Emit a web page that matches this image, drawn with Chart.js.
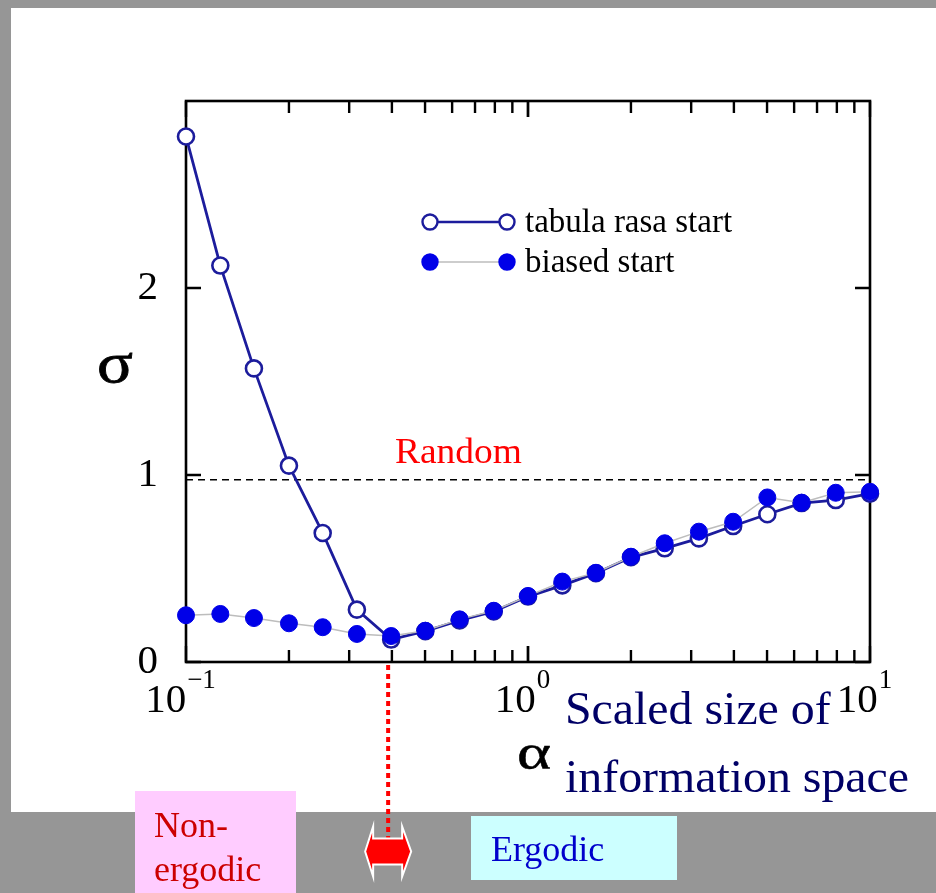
<!DOCTYPE html>
<html>
<head>
<meta charset="utf-8">
<script src="https://cdn.jsdelivr.net/npm/chart.js@4.4.1/dist/chart.umd.min.js"></script>
<style>
  body { margin: 0; width: 936px; height: 893px; overflow: hidden; position: relative; background: #969696; font-family: "Liberation Serif", "Times New Roman", serif; }
  #panel { position: absolute; left: 11px; top: 8px; width: 925px; height: 804px; background: #fff; }
  #nonErgodicBox { position: absolute; left: 135px; top: 791px; width: 161px; height: 102px; background: #ffccff; }
  #ergodicBox { position: absolute; left: 471px; top: 816px; width: 206px; height: 64px; background: #ccffff; }
  #chart { position: absolute; left: 0; top: 0; }
  .txt { position: absolute; white-space: nowrap; line-height: 1; transform-origin: 0 0; }
</style>
</head>
<body>
<div id="panel"></div>
<div id="nonErgodicBox"></div>
<div id="ergodicBox"></div>
<canvas id="chart" width="936" height="893"></canvas>

<div class="txt" style="left:97px; top:334px; font-size:58px; color:#000; transform:scaleX(1.15); -webkit-text-stroke:0.8px #000;">σ</div>
<div class="txt" style="left:517px; top:727px; font-size:50px; color:#000; transform:scaleX(1.3); -webkit-text-stroke:0.5px #000;">α</div>
<div class="txt" style="left:395px; top:434px; font-size:35px; color:#ff0000; transform:scaleX(1.07);">Random</div>
<div class="txt" style="left:565px; top:675px; font-size:46px; line-height:68px; color:#000066; transform:scaleX(1.04);">Scaled size of<br>information space</div>
<div class="txt" style="left:154px; top:803px; font-size:36px; line-height:44px; color:#cc0000;">Non-<br>ergodic</div>
<div class="txt" style="left:491px; top:831px; font-size:36px; color:#0000cc;">Ergodic</div>

<script>
// alpha values (scaled size of information space)
const alphaValues = [0.1, 0.126, 0.158, 0.2, 0.251, 0.316, 0.398, 0.501, 0.631, 0.794, 1.0,
                     1.26, 1.58, 2.0, 2.51, 3.16, 3.98, 5.01, 6.31, 7.94, 10.0];
// sigma, tabula rasa start (open circles)
const tabulaRasa = [2.81, 2.12, 1.57, 1.05, 0.69, 0.28, 0.12, 0.165, 0.222, 0.27, 0.35,
                    0.41, 0.475, 0.56, 0.608, 0.661, 0.727, 0.79, 0.85, 0.866, 0.90];
// sigma, biased start (filled circles)
const biased = [0.25, 0.257, 0.235, 0.207, 0.186, 0.15, 0.139, 0.167, 0.228, 0.274, 0.353,
                0.43, 0.477, 0.563, 0.635, 0.697, 0.75, 0.88, 0.852, 0.905, 0.91];
const yTickValues = [0, 1, 2];
const xTickExponents = ['−1', '0', '1'];
const randomLevel = 0.975;
const transitionAlpha = 0.39;

const openColor = '#1c1c9c';
const filledColor = '#0000e8';

const toPoints = ys => alphaValues.map((a, i) => ({ x: a, y: ys[i] }));

// frame with inward ticks, dashed "random" level, drawn under the data
const framePlugin = {
  id: 'frame',
  beforeDatasetsDraw(chart) {
    const { ctx, chartArea: ca, scales: { x, y } } = chart;
    ctx.save();
    // dashed random line
    const yr = y.getPixelForValue(randomLevel);
    ctx.strokeStyle = '#000';
    ctx.lineWidth = 1.6;
    ctx.setLineDash([7, 5]);
    ctx.beginPath();
    ctx.moveTo(ca.left, yr);
    ctx.lineTo(ca.right, yr);
    ctx.stroke();
    ctx.setLineDash([]);

    // box
    ctx.lineWidth = 2.6;
    ctx.strokeRect(ca.left, ca.top, ca.right - ca.left, ca.bottom - ca.top);

    // x ticks (log), top and bottom, pointing inward
    ctx.lineWidth = 2.4;
    for (let d = 0.1; d < 10; d *= 10) {
      for (let k = 1; k <= 10; k++) {
        const px = x.getPixelForValue(d * k);
        const len = (k === 1 || k === 10) ? 16 : 12;
        ctx.beginPath();
        ctx.moveTo(px, ca.bottom);
        ctx.lineTo(px, ca.bottom - len);
        ctx.moveTo(px, ca.top);
        ctx.lineTo(px, ca.top + len);
        ctx.stroke();
      }
    }
    // y ticks left and right
    yTickValues.forEach(v => {
      const py = y.getPixelForValue(v);
      ctx.beginPath();
      ctx.moveTo(ca.left, py);
      ctx.lineTo(ca.left + 15, py);
      ctx.moveTo(ca.right, py);
      ctx.lineTo(ca.right - 15, py);
      ctx.stroke();
    });
    ctx.restore();
  },
  afterDraw(chart) {
    const { ctx, chartArea: ca, scales: { x } } = chart;
    ctx.save();
    // x tick labels 10^n
    xTickExponents.forEach((e, i) => {
      const px = x.getPixelForValue(Math.pow(10, i - 1));
      ctx.font = '41px "Liberation Serif"';
      const wBase = ctx.measureText('10').width;
      ctx.font = '27px "Liberation Serif"';
      const wExp = ctx.measureText(e).width;
      const start = px - 6 - (wBase + wExp) / 2;
      ctx.fillStyle = '#000';
      ctx.textBaseline = 'alphabetic';
      ctx.font = '41px "Liberation Serif"';
      ctx.fillText('10', start, 712);
      ctx.font = '27px "Liberation Serif"';
      ctx.fillText(e, start + wBase + 1, 688);
    });

    // legend
    const rows = [
      { label: 'tabula rasa start', y: 222, line: openColor, lw: 2.4, fill: '#fff', stroke: openColor },
      { label: 'biased start', y: 262, line: '#bdbdbd', lw: 1.5, fill: filledColor, stroke: filledColor }
    ];
    rows.forEach(r => {
      ctx.strokeStyle = r.line;
      ctx.lineWidth = r.lw;
      ctx.beginPath();
      ctx.moveTo(430, r.y);
      ctx.lineTo(507, r.y);
      ctx.stroke();
      [430, 507].forEach(cx => {
        ctx.beginPath();
        ctx.arc(cx, r.y, 7.5, 0, Math.PI * 2);
        ctx.fillStyle = r.fill;
        ctx.fill();
        ctx.lineWidth = 2.4;
        ctx.strokeStyle = r.stroke;
        ctx.stroke();
      });
      ctx.fillStyle = '#000';
      ctx.font = '33px "Liberation Serif"';
      ctx.fillText(r.label, 525, r.y + 10);
    });

    // red dotted line down to the transition marker
    const tx = x.getPixelForValue(transitionAlpha);
    ctx.strokeStyle = '#ff0000';
    ctx.lineWidth = 4;
    ctx.setLineDash([5, 4]);
    ctx.beginPath();
    ctx.moveTo(tx, ca.bottom + 3);
    ctx.lineTo(tx, 842);
    ctx.stroke();
    ctx.setLineDash([]);

    // red double arrow
    const cy = 851.5;
    const pts = [[-23, 0], [-15, -25], [-15, -13], [14, -13], [14, -25], [23, 0],
                 [14, 25], [14, 13], [-15, 13], [-15, 25]];
    ctx.beginPath();
    pts.forEach(([dx, dy], i) => i ? ctx.lineTo(tx + dx, cy + dy) : ctx.moveTo(tx + dx, cy + dy));
    ctx.closePath();
    ctx.fillStyle = '#ff0000';
    ctx.fill();
    ctx.strokeStyle = '#fff';
    ctx.lineWidth = 2;
    ctx.stroke();
    ctx.restore();
  }
};

new Chart(document.getElementById('chart'), {
  type: 'line',
  data: {
    datasets: [
      {
        label: 'biased start',
        data: toPoints(biased),
        order: 0,
        borderColor: '#bdbdbd',
        borderWidth: 1.5,
        pointRadius: 8.5,
        pointBackgroundColor: filledColor,
        pointBorderColor: filledColor,
        pointBorderWidth: 1,
        clip: false
      },
      {
        label: 'tabula rasa start',
        data: toPoints(tabulaRasa),
        order: 1,
        borderColor: openColor,
        borderWidth: 2.8,
        pointRadius: 8,
        pointBackgroundColor: '#fff',
        pointBorderColor: openColor,
        pointBorderWidth: 2.6,
        clip: false
      }
    ]
  },
  options: {
    responsive: false,
    animation: false,
    events: [],
    layout: { padding: { top: 101, right: 66, left: 0, bottom: 0 } },
    plugins: { legend: { display: false }, tooltip: { enabled: false } },
    elements: { line: { tension: 0 } },
    scales: {
      x: {
        type: 'logarithmic',
        min: 0.1,
        max: 10,
        grid: { display: false, drawTicks: false },
        border: { display: false },
        ticks: { display: false },
        afterFit: s => { s.height = 231; }
      },
      y: {
        type: 'linear',
        min: 0,
        max: 3,
        grid: { display: false, drawTicks: false },
        border: { display: false },
        ticks: {
          stepSize: 1,
          padding: 28,
          color: '#000',
          font: { family: 'Liberation Serif', size: 41 },
          callback: v => yTickValues.includes(v) ? String(v) : ''
        },
        afterFit: s => { s.width = 186; }
      }
    }
  },
  plugins: [framePlugin]
});
</script>
</body>
</html>
